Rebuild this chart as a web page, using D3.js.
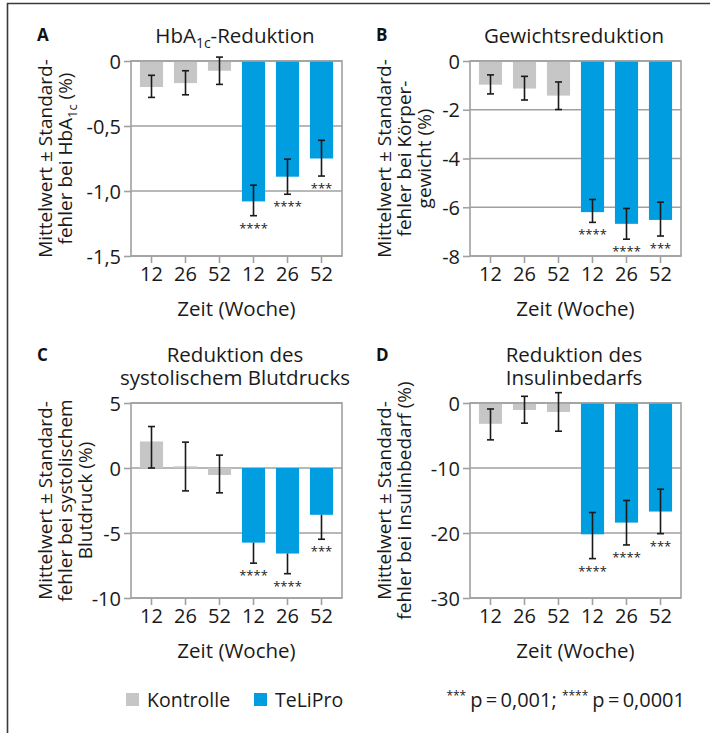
<!DOCTYPE html>
<html>
<head>
<meta charset="utf-8">
<script src="https://cdn.jsdelivr.net/npm/d3@7"></script>
<style>
  body { margin: 0; background: #fff; }
  svg { display: block; font-family: "Open Sans", sans-serif; }
</style>
</head>
<body>
<main></main>
<script>
// categories
const weeks = ["12", "26", "52", "12", "26", "52"];
const groups = ["Kontrolle", "Kontrolle", "Kontrolle", "TeLiPro", "TeLiPro", "TeLiPro"];
const stars = ["", "", "", "****", "****", "***"];

// A: HbA1c
const hba1cMean = [-0.20, -0.17, -0.075, -1.08, -0.89, -0.75];
const hba1cLow = [-0.28, -0.26, -0.18, -1.19, -1.025, -0.885];
const hba1cHigh = [-0.11, -0.075, 0.03, -0.955, -0.755, -0.61];
const hba1cTicks = [0, -0.5, -1.0, -1.5];
const hba1cTickLabels = ["0", "-0,5", "-1,0", "-1,5"];

// B: Gewicht
const weightMean = [-0.97, -1.13, -1.42, -6.2, -6.68, -6.52];
const weightLow = [-1.35, -1.6, -1.99, -6.62, -7.31, -7.18];
const weightHigh = [-0.57, -0.63, -0.86, -5.68, -6.05, -5.79];
const weightTicks = [0, -2, -4, -6, -8];
const weightTickLabels = ["0", "-2", "-4", "-6", "-8"];

// C: systolischer Blutdruck
const bpMean = [2.04, 0.13, -0.54, -5.74, -6.58, -3.6];
const bpLow = [0, -1.76, -1.91, -7.32, -8.13, -5.48];
const bpHigh = [3.19, 1.99, 0.99, -5.74, -6.58, -3.6];
const bpTicks = [5, 0, -5, -10];
const bpTickLabels = ["5", "0", "-5", "-10"];

// D: Insulinbedarf
const insulinMean = [-3.2, -1.07, -1.38, -20.2, -18.4, -16.7];
const insulinLow = [-5.67, -3.1, -4.34, -23.94, -21.84, -20.1];
const insulinHigh = [-0.92, 1.03, 1.59, -16.85, -15.0, -13.26];
const insulinTicks = [0, -10, -20, -30];
const insulinTickLabels = ["0", "-10", "-20", "-30"];

const legendLabels = ["Kontrolle", "TeLiPro"];

const color = d3.scaleOrdinal().domain(legendLabels).range(["#c6c6c6", "#009ee0"]);
const frameColor = "#a0a0a0";
const plotW = 211;
const plotH = 195;

// text pieces: [string, isSubscript]
const panels = [
  { letter: "A", left: 131, top: 61, title: [[["HbA", 0], ["1c", 1], ["-Reduktion", 0]]],
    ylabel: [[["Mittelwert ± Standard-", 0]], [["fehler bei HbA", 0], ["1c", 1], [" (%)", 0]]],
    mean: hba1cMean, low: hba1cLow, high: hba1cHigh, ticks: hba1cTicks, tickLabels: hba1cTickLabels },
  { letter: "B", left: 470, top: 61, title: [[["Gewichtsreduktion", 0]]],
    ylabel: [[["Mittelwert ± Standard-", 0]], [["fehler bei Körper-", 0]], [["gewicht (%)", 0]]],
    mean: weightMean, low: weightLow, high: weightHigh, ticks: weightTicks, tickLabels: weightTickLabels },
  { letter: "C", left: 131, top: 403, title: [[["Reduktion des", 0]], [["systolischem Blutdrucks", 0]]],
    ylabel: [[["Mittelwert ± Standard-", 0]], [["fehler bei systolischem", 0]], [["Blutdruck (%)", 0]]],
    mean: bpMean, low: bpLow, high: bpHigh, ticks: bpTicks, tickLabels: bpTickLabels },
  { letter: "D", left: 470, top: 403, title: [[["Reduktion des", 0]], [["Insulinbedarfs", 0]]],
    ylabel: [[["Mittelwert ± Standard-", 0]], [["fehler bei Insulinbedarf (%)", 0]]],
    mean: insulinMean, low: insulinLow, high: insulinHigh, ticks: insulinTicks, tickLabels: insulinTickLabels }
];

const svg = d3.select("main")
  .append("svg")
  .attr("width", 710)
  .attr("height", 733);

svg.append("rect").attr("width", 710).attr("height", 733).attr("fill", "#fff");

// figure border (top and left)
svg.append("path")
  .attr("d", "M7.5,733V3.5H710")
  .attr("fill", "none")
  .attr("stroke", "#3a3a3a")
  .attr("stroke-width", 1.6);

// rich text: a line of [string, isSubscript] pieces; first piece can carry x/dy for a new line
const addRich = (sel, parts, size, lineX, lineDy) => {
  parts.forEach(([txt, sub], i) => {
    const prev = i > 0 ? parts[i - 1][1] : 0;
    const ts = sel.append("tspan")
      .attr("font-size", sub ? size * 0.68 : size)
      .attr("dy", sub && !prev ? size * 0.25 : (!sub && prev ? -size * 0.25 : 0))
      .text(txt);
    if (i === 0 && lineX !== undefined) ts.attr("x", lineX).attr("dy", lineDy);
  });
};

const drawPanel = (p) => {
  const g = svg.append("g").attr("transform", "translate(" + p.left + "," + p.top + ")");
  const x = d3.scaleBand().domain(d3.range(weeks.length)).range([0, plotW])
    .paddingInner(0.32).paddingOuter(0.263);
  const y = d3.scaleLinear()
    .domain([d3.min(p.ticks), d3.max(p.ticks)])
    .range([plotH, 0]);

  // gridlines
  g.selectAll(".grid")
    .data(p.ticks)
    .enter()
    .append("line")
    .attr("x1", 0).attr("x2", plotW)
    .attr("y1", d => y(d)).attr("y2", d => y(d))
    .attr("stroke", frameColor)
    .attr("stroke-width", 1.4);

  // bars
  g.selectAll(".bar")
    .data(p.mean)
    .enter()
    .append("rect")
    .attr("x", (d, i) => x(i))
    .attr("width", x.bandwidth())
    .attr("y", d => y(Math.max(0, d)))
    .attr("height", d => Math.abs(y(d) - y(0)))
    .attr("fill", (d, i) => color(groups[i]));

  // frame
  g.append("rect")
    .attr("width", plotW).attr("height", plotH)
    .attr("fill", "none")
    .attr("stroke", frameColor)
    .attr("stroke-width", 1.6);

  // axes
  const yAxis = d3.axisLeft(y).tickValues(p.ticks)
    .tickFormat((d, i) => p.tickLabels[i]).tickSize(7).tickPadding(3);
  const xAxis = d3.axisBottom(x).tickFormat(i => weeks[i]).tickSize(7).tickPadding(4);

  const ya = g.append("g").call(yAxis);
  const xa = g.append("g").attr("transform", "translate(0," + plotH + ")").call(xAxis);
  [ya, xa].forEach(a => {
    a.select(".domain").remove();
    a.selectAll("line").attr("stroke", frameColor).attr("stroke-width", 1.6);
    a.selectAll("text")
      .attr("fill", "#1a1a1a")
      .style("font-family", "'Open Sans', sans-serif")
      .style("font-size", "20px");
  });
  ya.selectAll("text").attr("dy", "0.36em");

  // error bars
  const cx = i => x(i) + x.bandwidth() / 2;
  const eb = g.append("g").attr("stroke", "#1a1a1a").attr("stroke-width", 1.6);
  p.mean.forEach((m, i) => {
    eb.append("line")
      .attr("x1", cx(i)).attr("x2", cx(i))
      .attr("y1", y(p.high[i])).attr("y2", y(p.low[i]));
    [p.high[i], p.low[i]].forEach(v => {
      if (v !== m) {
        eb.append("line")
          .attr("x1", cx(i) - 3.5).attr("x2", cx(i) + 3.5)
          .attr("y1", y(v)).attr("y2", y(v));
      }
    });
  });

  // significance stars
  g.selectAll(".star")
    .data(stars)
    .enter()
    .append("text")
    .attr("x", (d, i) => cx(i))
    .attr("y", (d, i) => y(p.low[i]) + 17)
    .attr("text-anchor", "middle")
    .attr("font-size", 13)
    .attr("fill", "#1a1a1a")
    .text(d => d);

  // panel letter
  const titleBase = -18.5 - (p.title.length - 1) * 22.5;
  g.append("text")
    .attr("x", -94)
    .attr("y", titleBase - 1.5)
    .attr("font-size", 17)
    .attr("font-weight", "bold")
    .attr("fill", "#111")
    .text(p.letter);

  // title (one text element, lines as tspans)
  const tt = g.append("text")
    .attr("x", plotW / 2 - 1.5)
    .attr("y", titleBase)
    .attr("text-anchor", "middle")
    .attr("fill", "#1a1a1a");
  p.title.forEach((line, k) => {
    if (k === 0) addRich(tt, line, 20.5);
    else addRich(tt, line, 20.5, plotW / 2 - 1.5, 22.5);
  });

  // y label
  p.ylabel.forEach((line, k) => {
    const t = g.append("text")
      .attr("transform", "translate(" + (-79 + k * 20) + "," + plotH / 2 + ") rotate(-90)")
      .attr("text-anchor", "middle")
      .attr("fill", "#1a1a1a");
    addRich(t, line, 19);
  });

  // x label
  g.append("text")
    .attr("x", plotW / 2)
    .attr("y", plotH + 60)
    .attr("text-anchor", "middle")
    .attr("font-size", 20.5)
    .attr("fill", "#1a1a1a")
    .text("Zeit (Woche)");
};

panels.forEach(drawPanel);

// legend
const legend = svg.append("g").attr("transform", "translate(126,693)");
const legendX = [0, 128];
legendLabels.forEach((d, i) => {
  legend.append("rect")
    .attr("x", legendX[i]).attr("y", 0)
    .attr("width", 13).attr("height", 13)
    .attr("fill", color(d));
  legend.append("text")
    .attr("x", legendX[i] + 21)
    .attr("y", 13.5)
    .attr("font-size", 19.5)
    .attr("fill", "#1a1a1a")
    .text(d);
});

const note = svg.append("text")
  .attr("x", 685)
  .attr("y", 707)
  .attr("text-anchor", "end")
  .attr("font-size", 20)
  .attr("fill", "#1a1a1a");
note.append("tspan").attr("font-size", 12).attr("dy", -7).text("***");
note.append("tspan").attr("dy", 7).attr("dx", 4).text("p\u2009=\u20090,001; ");
note.append("tspan").attr("font-size", 12).attr("dy", -7).text("****");
note.append("tspan").attr("dy", 7).attr("dx", 4).text("p\u2009=\u20090,0001");
</script>
</body>
</html>
